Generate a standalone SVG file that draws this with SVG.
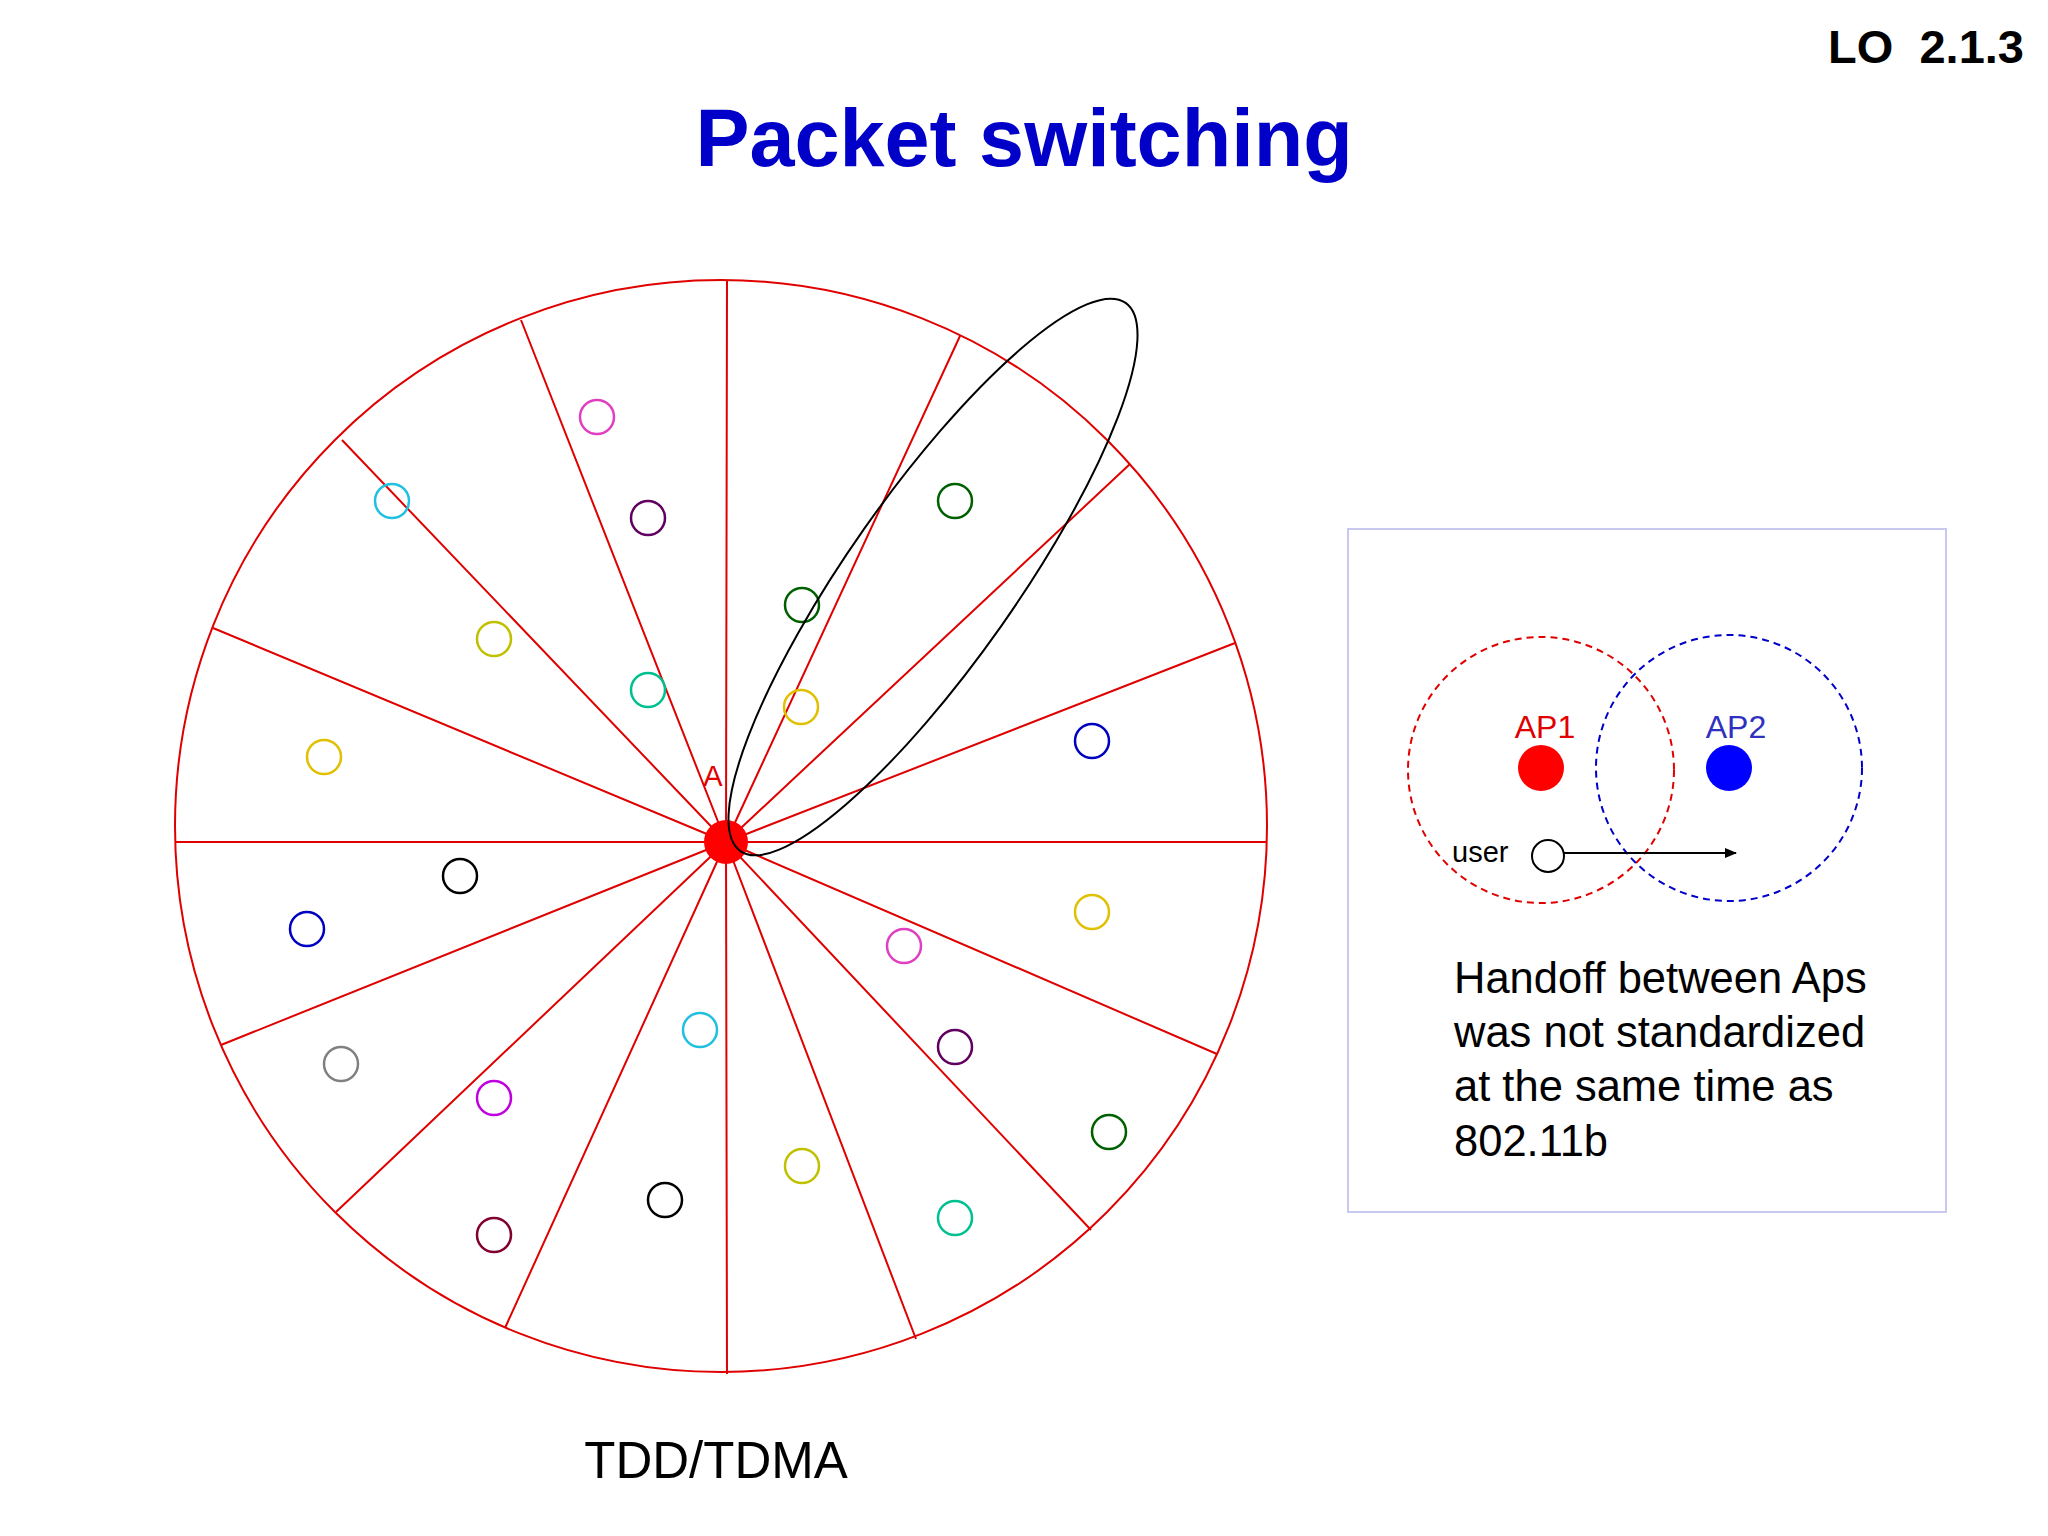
<svg xmlns="http://www.w3.org/2000/svg" width="2048" height="1536" viewBox="0 0 2048 1536">
<style>
text{font-family:"Liberation Sans",Arial,sans-serif}
.sp{stroke:#e00000;stroke-width:2;fill:none}
.u{fill:none;stroke-width:2.5}
</style>
<defs><marker id="ar" markerWidth="12" markerHeight="10" refX="11" refY="5" orient="auto" markerUnits="userSpaceOnUse"><path d="M0,0L12,5L0,10z" fill="#000"/></marker></defs>
<rect width="2048" height="1536" fill="#fff"/>
<text x="2024" y="63" font-size="47" font-weight="bold" text-anchor="end" xml:space="preserve">LO  2.1.3</text>
<text x="1024" y="166" font-size="81" font-weight="bold" fill="#0000c8" text-anchor="middle">Packet switching</text>
<g id="cell">
<circle cx="721" cy="826" r="546" class="sp"/>
<g class="sp">
<path d="M726,842L727,281M726,842L960,336M726,842L1130,464M726,842L1235,643M726,842L1267,842M726,842L1217,1054M726,842L1091,1230M726,842L916,1339M726,842L727,1374M726,842L505,1328M726,842L336,1212M726,842L221,1045M726,842L176,842M726,842L213,628M726,842L342,440M726,842L521,320"/>
</g>
</g>
<g id="users">
<circle cx="597" cy="417" r="17" class="u" stroke="#e040c0"/>
<circle cx="392" cy="501" r="17" class="u" stroke="#20c0e0"/>
<circle cx="648" cy="518" r="17" class="u" stroke="#600060"/>
<circle cx="955" cy="501" r="17" class="u" stroke="#006000"/>
<circle cx="494" cy="639" r="17" class="u" stroke="#c0c000"/>
<circle cx="802" cy="605" r="17" class="u" stroke="#006000"/>
<circle cx="648" cy="690" r="17" class="u" stroke="#00c090"/>
<circle cx="801" cy="707" r="17" class="u" stroke="#e0c000"/>
<circle cx="324" cy="757" r="17" class="u" stroke="#e0c000"/>
<circle cx="1092" cy="741" r="17" class="u" stroke="#0000c0"/>
<circle cx="460" cy="876" r="17" class="u" stroke="#000"/>
<circle cx="307" cy="929" r="17" class="u" stroke="#0000c0"/>
<circle cx="1092" cy="912" r="17" class="u" stroke="#e0c000"/>
<circle cx="904" cy="946" r="17" class="u" stroke="#e040c0"/>
<circle cx="700" cy="1030" r="17" class="u" stroke="#20c0e0"/>
<circle cx="955" cy="1047" r="17" class="u" stroke="#600060"/>
<circle cx="341" cy="1064" r="17" class="u" stroke="#808080"/>
<circle cx="494" cy="1098" r="17" class="u" stroke="#c000e0"/>
<circle cx="1109" cy="1132" r="17" class="u" stroke="#006000"/>
<circle cx="802" cy="1166" r="17" class="u" stroke="#c0c000"/>
<circle cx="665" cy="1200" r="17" class="u" stroke="#000"/>
<circle cx="955" cy="1218" r="17" class="u" stroke="#00c090"/>
<circle cx="494" cy="1235" r="17" class="u" stroke="#800030"/>
</g>
<g id="A">
<circle cx="726" cy="842" r="22" fill="#ff0000"/>
<text x="713" y="786" font-size="29" fill="#e00000" text-anchor="middle">A</text>
</g>
<g id="beam">
<ellipse cx="933" cy="577" rx="335" ry="84" transform="rotate(-54.9 933 577)" fill="none" stroke="#000" stroke-width="2"/>
</g>
<g id="handoff">
<rect x="1348" y="529" width="598" height="683" fill="none" stroke="#c8c8f0" stroke-width="2"/>
<circle cx="1541" cy="770" r="133" fill="none" stroke="#e00000" stroke-width="2" stroke-dasharray="7,5"/>
<circle cx="1729" cy="768" r="133" fill="none" stroke="#0000c8" stroke-width="2" stroke-dasharray="7,5"/>
<circle cx="1541" cy="768" r="23" fill="#ff0000"/>
<circle cx="1729" cy="768" r="23" fill="#0000ff"/>
<text x="1545" y="738" font-size="32" fill="#e00000" text-anchor="middle">AP1</text>
<text x="1736" y="738" font-size="32" fill="#3030c0" text-anchor="middle">AP2</text>
<text x="1452" y="862" font-size="29">user</text>
<circle cx="1548" cy="856" r="16" fill="none" stroke="#000" stroke-width="2"/>
</g>
<g id="connectors">
<line x1="1564" y1="853" x2="1736" y2="853" stroke="#000" stroke-width="2" marker-end="url(#ar)"/>
</g>
<g font-size="43.5">
<text x="1454" y="993">Handoff between Aps</text>
<text x="1454" y="1047">was not standardized</text>
<text x="1454" y="1101">at the same time as</text>
<text x="1454" y="1156">802.11b</text>
</g>
<text x="716" y="1478" font-size="51" text-anchor="middle">TDD/TDMA</text>
</svg>
